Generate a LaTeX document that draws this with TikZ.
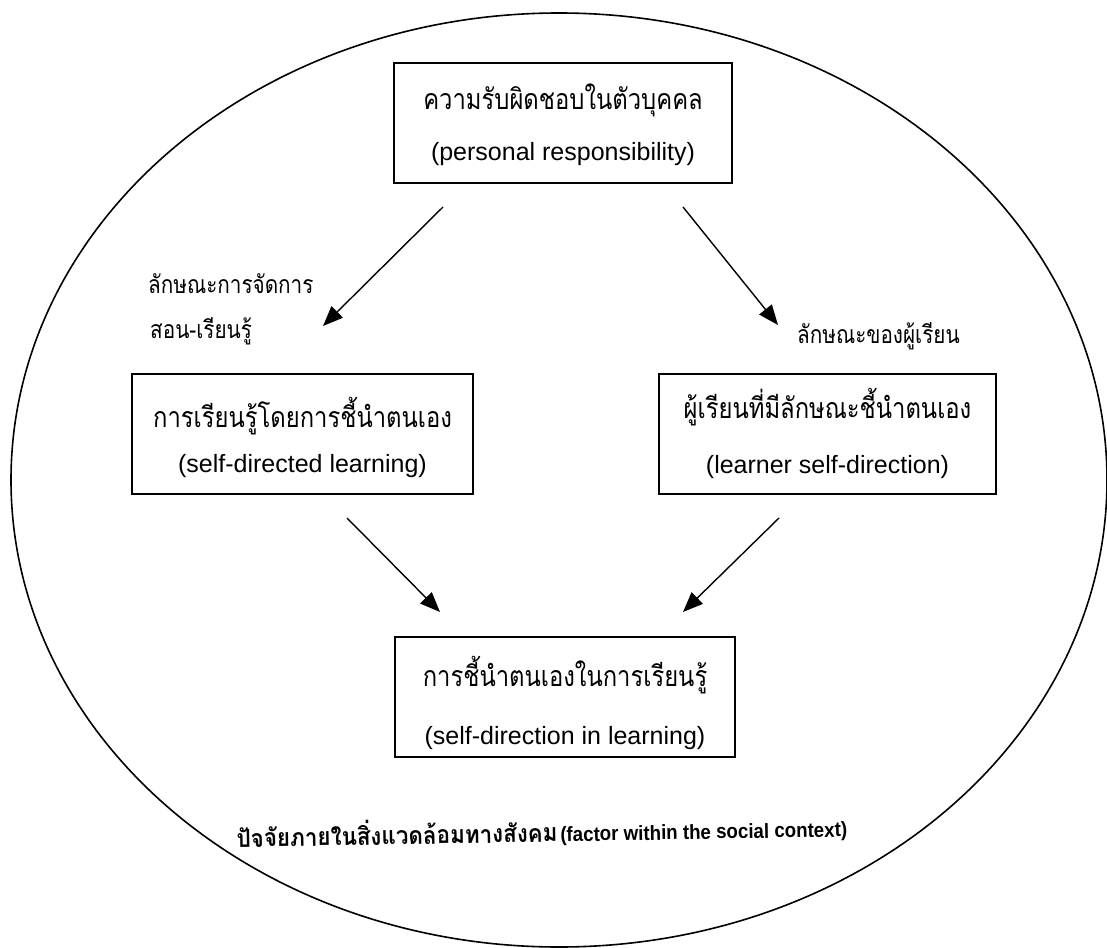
\documentclass[tikz,border=0pt]{standalone}
\usepackage{fontspec}
\setmainfont{Liberation Sans}
\newfontfamily\thai[Script=Thai]{Loma}
\usetikzlibrary{arrows.meta}
\newcommand{\tall}[1]{\scalebox{1}[1.2]{#1}}
\begin{document}
\begin{tikzpicture}[x=1pt,y=-1pt,
  box/.style={draw, line width=1.6pt, minimum width=#1, minimum height=120pt, inner sep=0pt},
  th/.style={anchor=base, inner sep=0pt, font=\thai\fontsize{23.8}{28}\selectfont},
  en/.style={anchor=base, inner sep=0pt, font=\fontsize{25}{30}\selectfont},
  lab/.style={anchor=base west, inner sep=0pt, font=\thai\fontsize{20.7}{24}\selectfont},
  arr/.style={-{Triangle[length=20pt,width=16pt]}, line width=1.4pt},
  oval/.style={line width=1.6pt}]
\useasboundingbox (0,0) rectangle (1107,947);
\fill[white] (0,0) rectangle (1107,947);
\draw[oval] (559,480) ellipse [x radius=548, y radius=467];

% boxes
\node[box=338pt] (top) at (563,123) {};
\node[box=341pt] (left) at (302.5,434) {};
\node[box=337pt] (right) at (827.5,434) {};
\node[box=340pt] (bottom) at (565,697) {};

% box texts
\node[th] (topth) at (563,110) {\tall{ความรับผิดชอบในตัวบุคคล}};
\node[en] (topen) at (563,160) {(personal responsibility)};
\node[th] (leftth) at (302.5,427) {\tall{การเรียนรู้โดยการชี้นำตนเอง}};
\node[en] (leften) at (302.5,472) {(self-directed learning)};
\node[th] (rightth) at (827.5,418) {\tall{ผู้เรียนที่มีลักษณะชี้นำตนเอง}};
\node[en] (righten) at (827.5,473) {(learner self-direction)};
\node[th] (bottomth) at (565,686) {\tall{การชี้นำตนเองในการเรียนรู้}};
\node[en] (bottomen) at (565,744) {(self-direction in learning)};

% side labels
\node[lab] (lab1) at (148,293) {\tall{ลักษณะการจัดการ}};
\node[lab] (lab2) at (150,338) {\tall{สอน-เรียนรู้}};
\node[lab] (lab3) at (797,343) {\tall{ลักษณะของผู้เรียน}};

% bottom caption
\node[anchor=base, inner sep=0pt, rotate=1] (ctx) at (542,842)
  {{\thai\bfseries\fontsize{22.4}{26}\selectfont\scalebox{1}[1.1]{ปัจจัยภายในสิ่งแวดล้อมทางสังคม}} {\bfseries\fontsize{18.7}{22}\selectfont\scalebox{1}[1.1]{(factor within the social context)}}};

% connectors
\coordinate (a1s) at (443,207);
\coordinate (a1e) at (323,326);
\coordinate (a2s) at (683,207);
\coordinate (a2e) at (778,325);
\coordinate (a3s) at (347,518);
\coordinate (a3e) at (440,612);
\coordinate (a4s) at (779,518);
\coordinate (a4e) at (683,612);
\draw[arr] (a1s) -- (a1e);
\draw[arr] (a2s) -- (a2e);
\draw[arr] (a3s) -- (a3e);
\draw[arr] (a4s) -- (a4e);
\end{tikzpicture}
\end{document}
